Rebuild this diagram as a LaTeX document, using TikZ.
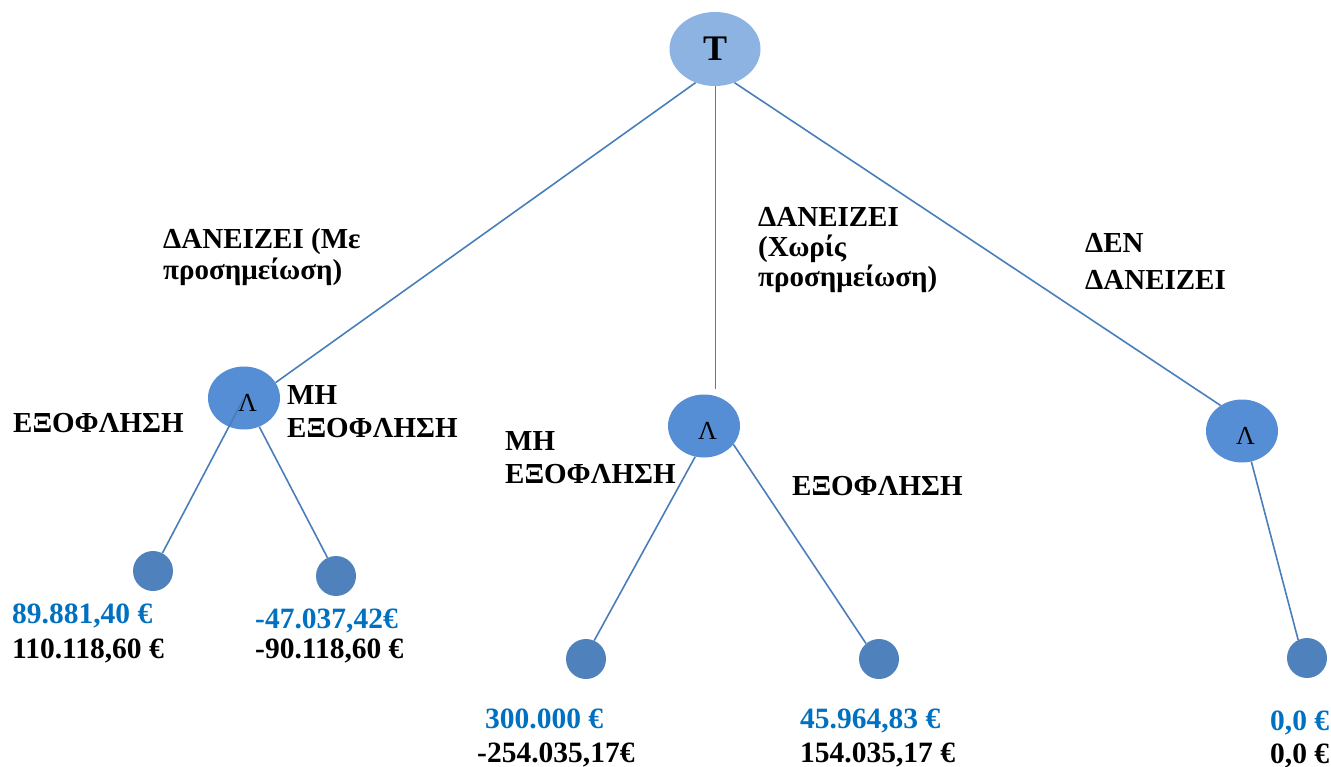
\documentclass[tikz,border=0pt]{standalone}
\usepackage{fontspec}
\setmainfont{Liberation Serif}
\usepackage{xcolor}
\usetikzlibrary{shapes.geometric}

\definecolor{rootblue}{HTML}{8DB3E2}
\definecolor{andblue}{HTML}{558ED5}
\definecolor{leafblue}{HTML}{4F81BD}
\definecolor{lineblue}{HTML}{4A7EBB}
\definecolor{valblue}{HTML}{0070C0}

\tikzset{
  rootnode/.style={ellipse,fill=rootblue,minimum width=91pt,minimum height=74pt,inner sep=0pt,
    font=\bfseries\fontsize{36}{36}\selectfont},
  andnode/.style={ellipse,fill=andblue,minimum width=72pt,minimum height=63pt,inner sep=0pt,
    label={[xshift=3.5pt,yshift=-4.5pt,inner sep=0pt,font=\fontsize{26}{26}\selectfont]center:Λ}},
  leafnode/.style={circle,fill=leafblue,minimum size=40pt,inner sep=0pt},
  branch/.style={draw=lineblue,line width=1.6pt},
  lbl/.style={font=\bfseries\fontsize{29}{#1}\selectfont,align=left,anchor=base west,inner sep=0pt},
  lbl/.default=32,
  val/.style={font=\bfseries\fontsize{29.5}{29.5}\selectfont,anchor=base west,inner sep=0pt},
}

\begin{document}
\begin{tikzpicture}[x=1pt,y=-1pt]
\useasboundingbox (0,0) rectangle (1331,767);

% nodes
\node[rootnode] (T) at (715,49) {T};
\node[andnode] (a1) at (244,398) {};
\node[andnode] (a2) at (704,426) {};
\node[andnode] (a3) at (1242,431) {};
\node[leafnode] (l1) at (153,571) {};
\node[leafnode] (l2) at (336,576) {};
\node[leafnode] (l3) at (586,659) {};
\node[leafnode] (l4) at (879,659) {};
\node[leafnode] (l5) at (1307,658) {};

% branches
\draw[branch] (T.240) -- (a1.26);
\draw[branch,shorten >=5pt] (T.271) -- (T.271 |- a2.north);
\draw[branch] (T.300) -- (a3.130);
\draw[branch] (a1.center) -- (l1);
\draw[branch] (a1.298) -- (l2.115);
\draw[branch] (a2.254) -- (l3.66);
\draw[branch] (a2.328) -- (l4.130);
\draw[branch] (a3.287) -- (l5.116);

% labels (base = last line)
\node[lbl] (lend) at (163,280) {ΔΑΝΕΙΖΕΙ (Με\\προσημείωση)};
\node[lbl=30] (lfree) at (758,287) {ΔΑΝΕΙΖΕΙ\\(Χωρίς\\προσημείωση)};
\node[lbl=37] (lnot) at (1085,290) {ΔΕΝ\\ΔΑΝΕΙΖΕΙ};
\node[lbl] (e1) at (13,432) {ΕΞΟΦΛΗΣΗ};
\node[lbl=33] (m1) at (287,437) {ΜΗ\\ΕΞΟΦΛΗΣΗ};
\node[lbl=33] (m2) at (505,483) {ΜΗ\\ΕΞΟΦΛΗΣΗ};
\node[lbl] (e2) at (792,495) {ΕΞΟΦΛΗΣΗ};

% values
\node[val,valblue] (v1a) at (12,623) {89.881,40 €};
\node[val] (v1b) at (12,658) {110.118,60 €};
\node[val,valblue] (v2a) at (255,628) {-47.037,42€};
\node[val] (v2b) at (255,658) {-90.118,60 €};
\node[val,valblue] (v3a) at (485,728) {300.000 €};
\node[val] (v3b) at (477,762) {-254.035,17€};
\node[val,valblue] (v4a) at (800,728) {45.964,83 €};
\node[val] (v4b) at (800,762) {154.035,17 €};
\node[val,valblue] (v5a) at (1270,730) {0,0 €};
\node[val] (v5b) at (1270,763) {0,0 €};
\end{tikzpicture}
\end{document}
